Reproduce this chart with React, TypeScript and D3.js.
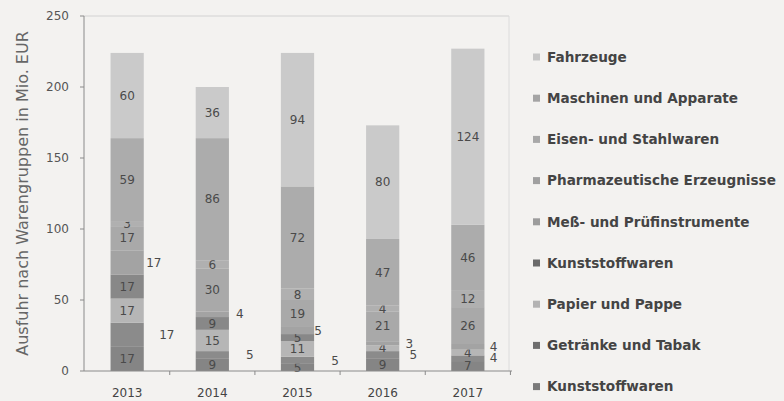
import * as d3 from 'd3';

const years = ['2013', '2014', '2015', '2016', '2017'];

// series, bottom of the stack first
const seriesNames = [
  'Kunststoffwaren',
  'Getränke und Tabak',
  'Papier und Pappe',
  'Kunststoffwaren ',
  'Meß- und Prüfinstrumente',
  'Pharmazeutische Erzeugnisse',
  'Eisen- und Stahlwaren',
  'Maschinen und Apparate',
  'Fahrzeuge',
];
const kunststoff = [17, 9, 5, 9, 7];
const getraenke = [17, 5, 5, 5, 4];
const papier = [17, 15, 11, 4, 4];
const kunststoff2 = [17, 9, 5, 0, 0];
const messgeraete = [17, 4, 5, 3, 4];
const pharma = [17, 30, 19, 21, 26];
const eisen = [3, 6, 8, 4, 12];
const maschinen = [59, 86, 72, 47, 46];
const fahrzeuge = [60, 36, 94, 80, 124];
const yTicks = [0, 50, 100, 150, 200, 250];

const seriesValues = [kunststoff, getraenke, papier, kunststoff2, messgeraete, pharma, eisen, maschinen, fahrzeuge];
const colors = ['#858585', '#8b8b8b', '#b6b6b6', '#888888', '#a3a3a3', '#a9a9a9', '#b0b0b0', '#acacac', '#cacaca'];
const legendColors = ['#7a7a7a', '#6e6e6e', '#b3b3b3', '#6a6a6a', '#9c9c9c', '#a0a0a0', '#a8a8a8', '#a4a4a4', '#c6c6c6'];
// labels of these series sit right of the bar (centre offset per year)
const outsideOffset: Record<number, number[]> = {
  1: [23, 21, 21, 14, 9],
  4: [10, 11, 4, 10, 9],
};

const W = 784;
const H = 401;
const font = 'DejaVu Sans, sans-serif';

export default function App() {
  const rows = years.map((year, i) => {
    const row: Record<string, number | string> = { year };
    seriesNames.forEach((name, s) => (row[name] = seriesValues[s][i]));
    return row;
  });
  const stacked = d3.stack<Record<string, number | string>>().keys(seriesNames)(rows as any);

  const x = d3.scaleBand().domain(years).range([85, 510]).paddingInner(0.61).paddingOuter(0.3);
  const y = d3.scaleLinear().domain([0, 250]).range([371, 16]);
  const step = x.step();

  return (
    <svg width={W} height={H} style={{ position: 'fixed', left: 0, top: 0 }}>
      <rect width={W} height={H} fill="#f3f2f0" />
      {/* frame */}
      <line x1={84} x2={509} y1={y(250)} y2={y(250)} stroke="#d2d2d2" />
      <line x1={509} x2={509} y1={y(250)} y2={y(0)} stroke="#dcdcdc" />
      {stacked.map((layer, s) => (
        <g key={s}>
          {layer.map((d, i) => {
            const v = seriesValues[s][i];
            if (!v) return null;
            const x0 = x(years[i])!;
            const bw = x.bandwidth();
            const mid = y((d[0] + d[1]) / 2);
            const off = outsideOffset[s];
            return (
              <g key={i}>
                <rect x={x0} width={bw} y={y(d[1])} height={y(d[0]) - y(d[1])} fill={colors[s]} />
                <text
                  x={off ? x0 + bw + off[i] : x0 + bw / 2}
                  y={mid}
                  dy="0.35em"
                  textAnchor="middle"
                  fontFamily={font}
                  fontSize={12}
                  fill="#4a4a4a"
                >
                  {v}
                </text>
              </g>
            );
          })}
        </g>
      ))}
      {/* y axis */}
      <line x1={84} x2={84} y1={y(250)} y2={y(0)} stroke="#8a8a8a" />
      {yTicks.map((t) => (
        <g key={t}>
          <line x1={80} x2={84} y1={y(t)} y2={y(t)} stroke="#8a8a8a" />
          <text x={69} y={y(t)} dy="0.35em" textAnchor="end" fontFamily={font} fontSize={12} fill="#555">
            {t}
          </text>
        </g>
      ))}
      <text
        transform={`translate(22,${(y(0) + y(250)) / 2}) rotate(-90)`}
        textAnchor="middle"
        dy="0.35em"
        fontFamily={font}
        fontSize={16}
        fill="#666"
      >
        Ausfuhr nach Warengruppen in Mio. EUR
      </text>
      {/* x axis */}
      <line x1={84} x2={512} y1={y(0)} y2={y(0)} stroke="#8a8a8a" />
      {years.map((yr) => (
        <g key={yr}>
          <line
            x1={x(yr)! + x.bandwidth() / 2 + step / 2}
            x2={x(yr)! + x.bandwidth() / 2 + step / 2}
            y1={y(0)}
            y2={y(0) + 4}
            stroke="#8a8a8a"
          />
          <text x={x(yr)! + x.bandwidth() / 2} y={393} dy="0.35em" textAnchor="middle" fontFamily={font} fontSize={12} fill="#444">
            {yr}
          </text>
        </g>
      ))}
      {/* legend, top of the stack first */}
      {seriesNames
        .map((name, s) => ({ name: name.trim(), s }))
        .reverse()
        .map((d, i) => (
          <g key={i} transform={`translate(533,${57 + i * 41.2})`}>
            <rect x={0} y={-3.5} width={7} height={7} fill={legendColors[d.s]} />
            <text x={14} dy="0.35em" fontFamily={font} fontSize={13.6} fontWeight="bold" fill="#444">
              {d.name}
            </text>
          </g>
        ))}
    </svg>
  );
}
